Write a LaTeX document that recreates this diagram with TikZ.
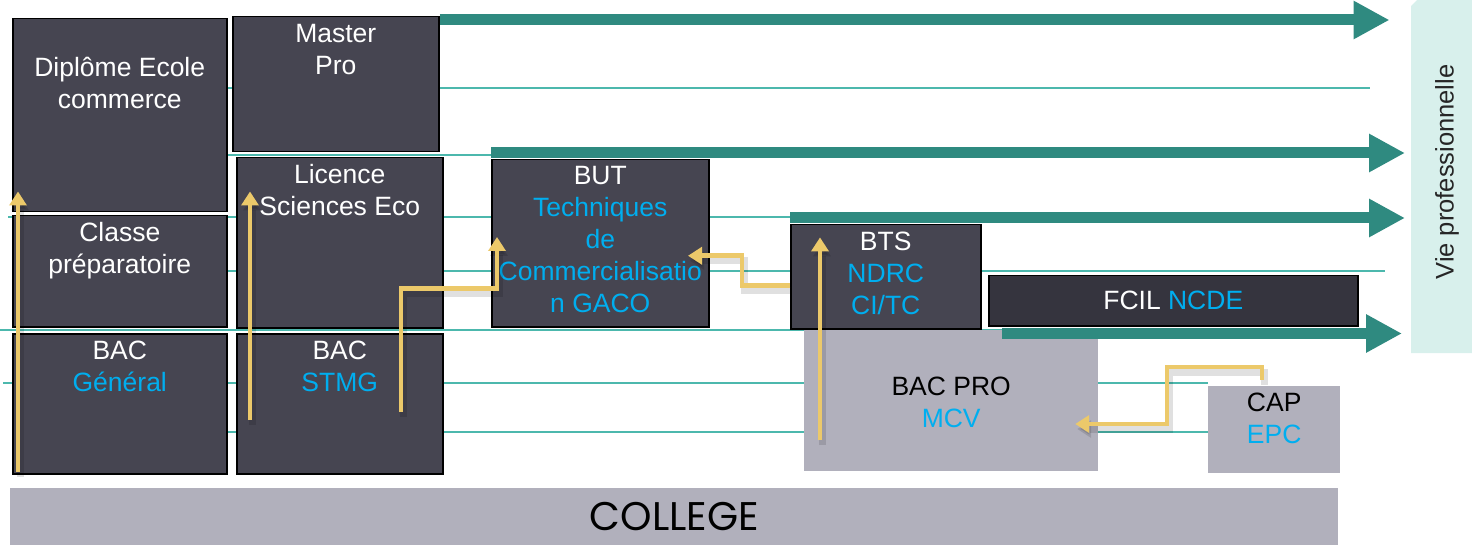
\documentclass[tikz,border=0pt]{standalone}
\usepackage{fontspec}
\setmainfont{Liberation Sans}
\newfontfamily\collegefont{Poppins}
\usetikzlibrary{arrows.meta,positioning,calc}

\definecolor{boxgrey}{HTML}{464551}
\definecolor{fcilgrey}{HTML}{35343E}
\definecolor{lightgrey}{HTML}{B1B0BC}
\definecolor{tealline}{HTML}{4CB8AD}
\definecolor{tealdark}{HTML}{2F8A80}
\definecolor{gold}{HTML}{ECC96A}
\definecolor{textblue}{HTML}{00AEEF}
\definecolor{viefill}{HTML}{D8F0EC}

\tikzset{
  darkbox/.style={draw=black, line width=1.5pt, fill=boxgrey, anchor=north west, inner sep=0pt},
  lightbox/.style={fill=lightgrey, anchor=north west, inner sep=0pt},
  boxtext/.style={align=center, text=white, inner sep=0pt,
    font=\fontsize{26.5}{32}\selectfont},
  thinline/.style={draw=tealline, line width=2pt},
  bigarrow/.style={draw=tealdark, line width=11pt, -{Triangle[length=36pt,width=36pt]}},
  goldarrow/.style={draw=gold, line width=4.5pt, -{Triangle[length=14pt,width=17pt]},
    preaction={draw=black, opacity=0.12, line width=7pt, transform canvas={shift={(2pt,-5pt)}}}}
}

\begin{document}
\begin{tikzpicture}[x=1pt,y=-1pt]
\useasboundingbox (0,0) rectangle (1472,545);

% fond : lignes fines
\foreach \y/\xa/\xb in {88/226/1370, 155/226/491, 217/8/790, 271/226/1385,
                        330/0/1003, 383/3/1208, 432/226/1208}
  \draw[thinline] (\xa,\y) -- (\xb,\y);

% vie professionnelle
\fill[viefill] (1411,6) -- (1417,0) -- (1472,0) -- (1472,353) -- (1411,353) -- cycle;
\node[rotate=90, inner sep=0pt, font=\fontsize{25.5}{30}\selectfont, text=black!85] (vie) at (1447,172) {Vie professionnelle};

% cases
\node[darkbox, minimum width=214pt, minimum height=193pt] (diplome) at (12,18) {};
\node[boxtext, below=39.5pt of diplome.north] (diplomeT) {Diplôme Ecole\\commerce};

\node[darkbox, minimum width=214pt, minimum height=111pt] (classe) at (12,215) {};
\node[boxtext, below=7.5pt of classe.north] (classeT) {Classe\\préparatoire};

\node[darkbox, minimum width=214pt, minimum height=140pt] (bacgen) at (12,333) {};
\node[boxtext, below=7.5pt of bacgen.north] (bacgenT) {BAC\\\textcolor{textblue}{Général}};

\node[darkbox, minimum width=206pt, minimum height=135pt] (master) at (232,16) {};
\node[boxtext, below=8.5pt of master.north] (masterT) {Master\\Pro};

\node[darkbox, minimum width=206pt, minimum height=170pt] (licence) at (236,157) {};
\node[boxtext, below=7.5pt of licence.north] (licenceT) {Licence\\Sciences Eco};

\node[darkbox, minimum width=206pt, minimum height=140pt] (bacstmg) at (236,333) {};
\node[boxtext, below=7.5pt of bacstmg.north] (bacstmgT) {BAC\\\textcolor{textblue}{STMG}};

\node[darkbox, minimum width=217pt, minimum height=167pt] (but) at (491,159) {};
\node[boxtext, below=7.5pt of but.north] (butT) {BUT\\\color{textblue}Techniques\\\color{textblue}de\\\color{textblue}Commercialisatio\\\color{textblue}n GACO};

\node[darkbox, minimum width=190pt, minimum height=104pt] (bts) at (790,224) {};
\node[boxtext, below=7.5pt of bts.north] (btsT) {BTS\\\color{textblue}NDRC\\\color{textblue}CI/TC};

\node[lightbox, minimum width=294pt, minimum height=141pt] (bacpro) at (804,330) {};
\node[boxtext, text=black, below=46.5pt of bacpro.north] (bacproT) {BAC PRO\\\textcolor{textblue}{MCV}};

\node[lightbox, minimum width=132pt, minimum height=87pt] (cap) at (1208,386) {};
\node[boxtext, text=black, below=6.5pt of cap.north] (capT) {CAP\\\textcolor{textblue}{EPC}};

\node[darkbox, fill=fcilgrey, minimum width=369pt, minimum height=50pt] (fcil) at (988,275) {};
\node[boxtext] (fcilT) at (fcil.center) {FCIL \textcolor{textblue}{NCDE}};

\node[lightbox, minimum width=1328pt, minimum height=57pt] (college) at (10,488) {};
\node[inner sep=0pt, font=\collegefont\fontsize{40}{44}\selectfont] (collegeT) at (college.center) {COLLEGE};

% fleches vers la vie professionnelle
\draw[bigarrow] ([yshift=-4pt]master.north east) -- ++(950,0);
\draw[bigarrow] ([yshift=6pt]but.north west) -- ++(914,0);
\draw[bigarrow] ([yshift=6pt]bts.north west) -- ++(615,0);
\draw[bigarrow] ([shift={(14pt,-7pt)}]fcil.south west) -- ++(400,0);

% poursuites d'etudes
\draw[goldarrow] ([shift={(6pt,3pt)}]bacgen.south west) -- ++(0,-280);
\draw[goldarrow] ([shift={(14pt,55pt)}]bacstmg.south west) -- ++(0,-228);
\draw[goldarrow] ([shift={(165pt,63pt)}]bacstmg.south west) -- ++(0,-123) -- ++(96,0)
  -- ([shift={(6pt,-78pt)}]but.north west);
\draw[goldarrow] ([yshift=-9pt]bts.west) -- ++(-48,0) -- ++(0,-30) -- ++(-54,0);
\draw[goldarrow] ([shift={(16pt,31pt)}]bacpro.south west) -- ++(0,-203);
\draw[goldarrow] ([shift={(-12pt,6pt)}]cap.north) -- ++(0,-13) -- ++(-95,0) -- ++(0,57) -- ++(-92,0);
\end{tikzpicture}
\end{document}
